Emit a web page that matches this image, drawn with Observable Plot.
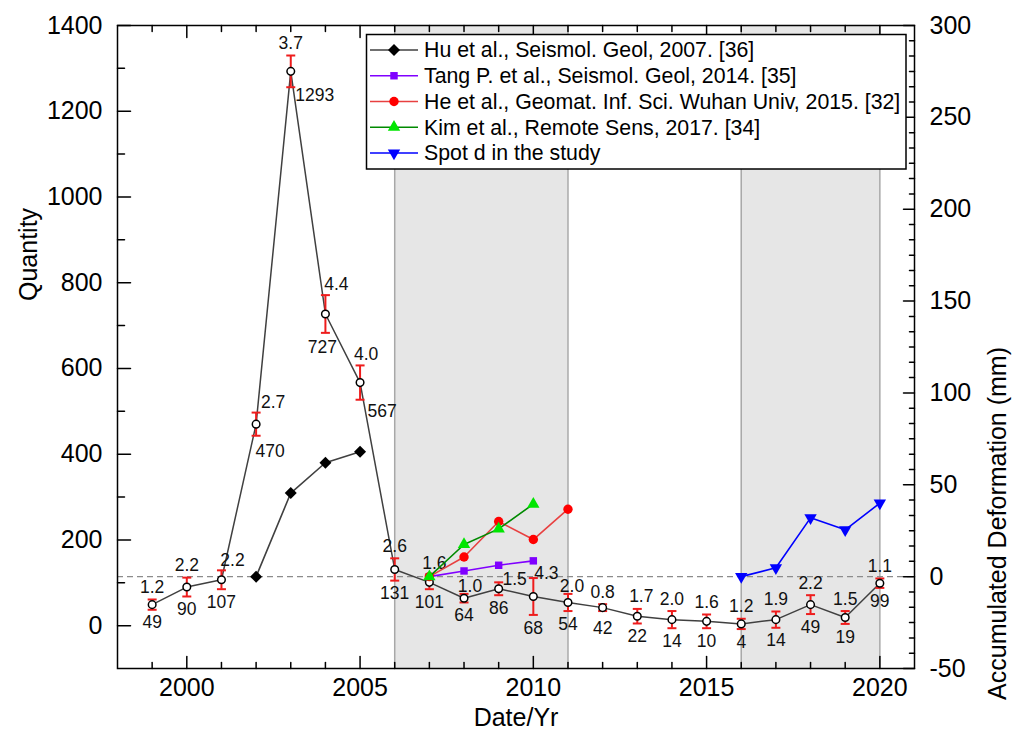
<!DOCTYPE html>
<html>
<head>
<meta charset="utf-8">
<script src="https://cdn.jsdelivr.net/npm/d3@7"></script>
<script src="https://cdn.jsdelivr.net/npm/@observablehq/plot@0.6"></script>
<style>
  body { margin: 0; background: #fff; }
  #chart { width: 1022px; height: 740px; }
</style>
</head>
<body>
<div id="chart"></div>
<script>
// ---- Data -------------------------------------------------------------
// Yearly event count (left axis) with the spread value printed above each point
const years    = [1999, 2000, 2001, 2002, 2003, 2004, 2005, 2006, 2007, 2008, 2009,
                  2010, 2011, 2012, 2013, 2014, 2015, 2016, 2017, 2018, 2019, 2020];
const quantity = [49, 90, 107, 470, 1293, 727, 567, 131, 101, 64, 86,
                  68, 54, 42, 22, 14, 10, 4, 14, 49, 19, 99];
const spread   = [1.2, 2.2, 2.2, 2.7, 3.7, 4.4, 4.0, 2.6, 1.6, 1.0, 1.5,
                  4.3, 2.0, 0.8, 1.7, 2.0, 1.6, 1.2, 1.9, 2.2, 1.5, 1.1];
const errScale = 10; // error bar half-length = spread × 10 (in quantity units)

// Accumulated deformation series (right axis, mm)
const huYears   = [2002, 2003, 2004, 2005];
const huDef     = [0, 45.5, 62, 68];
const tangYears = [2007, 2008, 2009, 2010];
const tangDef   = [0, 3.1, 6.2, 8.6];
const heYears   = [2007, 2008, 2009, 2010, 2011];
const heDef     = [0, 10.7, 30, 20.2, 36.7];
const kimYears  = [2007, 2008, 2009, 2010];
const kimDef    = [0, 17.5, 26, 39.5];
const spotYears = [2016, 2017, 2018, 2019, 2020];
const spotDef   = [0, 4.8, 32, 25.5, 40];

const seriesNames = [
  "Hu et al., Seismol. Geol, 2007. [36]",
  "Tang P. et al., Seismol. Geol, 2014. [35]",
  "He et al., Geomat. Inf. Sci. Wuhan Univ, 2015. [32]",
  "Kim et al., Remote Sens, 2017. [34]",
  "Spot d in the study"
];

// Shaded observation periods
const bandStart = [2006, 2016];
const bandEnd   = [2011, 2020];

// Axis ticks
const xTicks     = [2000, 2005, 2010, 2015, 2020];
const leftTicks  = [0, 200, 400, 600, 800, 1000, 1200, 1400];
const rightTicks = [-50, 0, 50, 100, 150, 200, 250, 300];

// ---- Helpers ----------------------------------------------------------
const fam = '"Liberation Sans", Arial, Helvetica, sans-serif';
const leftDomain = [-100, 1400];
const rightDomain = [-50, 300];
// map right-axis (mm) values onto the left-axis scale
const def2q = d3.scaleLinear(rightDomain, leftDomain);

const qRows = years.map((year, i) => ({
  year, q: quantity[i], s: spread[i],
  lo: quantity[i] - errScale * spread[i],
  hi: quantity[i] + errScale * spread[i]
}));
const rowsOf = (ys, vs) => ys.map((year, i) => ({year, v: def2q(vs[i])}));
const bands = bandStart.map((a, i) => ({a, b: bandEnd[i]}));

// custom symbols
const capSymbol = {draw(ctx, size) { const r = Math.sqrt(size / Math.PI); ctx.moveTo(-r, 0); ctx.lineTo(r, 0); }};
const downTriangle = {draw(ctx, size) {
  const y = Math.sqrt(size / (Math.sqrt(3) * 3));
  ctx.moveTo(0, 2 * y); ctx.lineTo(-Math.sqrt(3) * y, -y); ctx.lineTo(Math.sqrt(3) * y, -y); ctx.closePath();
}};
const tickShape = {draw(ctx, l) { ctx.moveTo(0, 0); ctx.lineTo(0, -l); }};

const series = [
  {rows: rowsOf(huYears, huDef),     line: "#404040", fill: "#000000", symbol: "diamond2", r: 5.4},
  {rows: rowsOf(tangYears, tangDef), line: "#8000ff", fill: "#7f00ff", symbol: "square",   r: 4.2},
  {rows: rowsOf(heYears, heDef),     line: "#e84040", fill: "#ff0000", symbol: "circle",   r: 4.7},
  {rows: rowsOf(kimYears, kimDef),   line: "#008a00", fill: "#00e600", symbol: "triangle", r: 4.6},
  {rows: rowsOf(spotYears, spotDef), line: "#0000ff", fill: "#0000ff", symbol: downTriangle, r: 4.6}
];

// tick marks drawn inward from the frame
function tickMarks(values, side, len) {
  const horiz = side === "left" || side === "right";
  return Plot.vector(values, {
    [horiz ? "y" : "x"]: d => d,
    frameAnchor: side,
    length: len,
    rotate: {left: 90, right: -90, bottom: 0, top: 180}[side],
    anchor: "start",
    shape: tickShape,
    stroke: "black",
    strokeWidth: 1.5
  });
}

// value labels: a few are nudged sideways to stay clear of the lines
const topNudge = {2001: [11, -10], 2002: [17, -10], 2004: [11, -11], 2005: [6, -11], 2007: [5, -12],
                  2008: [6, -8], 2009: [16, -3], 2010: [13, -5], 2011: [4, -8], 2013: [4, -13]};
const bottomNudge = {2002: [14, 16], 2003: [24, 8], 2004: [-3, 15], 2005: [22, 12], 2012: [0, 17]};
function labelMarks(yField, text, nudge, fallback) {
  const groups = d3.group(qRows, d => (nudge[d.year] || fallback).join(","));
  return [...groups].map(([key, rows]) => {
    const [dx, dy] = key.split(",").map(Number);
    return Plot.text(rows, {x: "year", y: yField, text, dx, dy, fontSize: 17.5, fill: "#111"});
  });
}

const xMinor = d3.range(1999, 2021).filter(y => y % 5 !== 0);
const leftMinor = d3.range(100, 1400, 200);
const rightMinor = d3.range(-50, 300.001, 50 / 6).filter(v => Math.abs(v / 50 - Math.round(v / 50)) > 1e-6);

const chart = Plot.plot({
  width: 1022,
  height: 740,
  marginLeft: 117,
  marginRight: 108,
  marginTop: 25,
  marginBottom: 72,
  style: {fontFamily: fam, background: "white", color: "black", overflow: "visible"},
  x: {domain: [1998, 2021], axis: null, label: null},
  y: {domain: leftDomain, axis: null, label: null},
  marks: [
    // shaded periods
    Plot.rect(bands, {x1: "a", x2: "b", fill: "#e6e6e6"}),
    Plot.ruleX(bands.flatMap(d => [d.a, d.b]), {stroke: "#a8a8a8", strokeWidth: 1.5}),
    // zero deformation reference
    Plot.ruleY([def2q(0)], {stroke: "#8c8c8c", strokeWidth: 1.2, strokeDasharray: "6,4"}),

    // quantity series with error bars
    Plot.line(qRows, {x: "year", y: "q", stroke: "#404040", strokeWidth: 1.5}),
    Plot.ruleX(qRows, {x: "year", y1: "lo", y2: "hi", stroke: "#ee1c1c", strokeWidth: 2}),
    Plot.dot(qRows, {x: "year", y: "lo", symbol: capSymbol, r: 4.5, stroke: "#ee1c1c", strokeWidth: 2, fill: "none"}),
    Plot.dot(qRows, {x: "year", y: "hi", symbol: capSymbol, r: 4.5, stroke: "#ee1c1c", strokeWidth: 2, fill: "none"}),
    Plot.dot(qRows, {x: "year", y: "q", r: 3.8, fill: "white", stroke: "black", strokeWidth: 1.5}),
    ...labelMarks("hi", d => d.s.toFixed(1), topNudge, [0, -12]),
    ...labelMarks("lo", d => String(d.q), bottomNudge, [0, 13]),

    // deformation series
    ...series.flatMap(s => [
      Plot.line(s.rows, {x: "year", y: "v", stroke: s.line, strokeWidth: 1.6}),
      Plot.dot(s.rows, {x: "year", y: "v", symbol: s.symbol, r: s.r, fill: s.fill, stroke: "none"})
    ]),

    // ticks
    tickMarks(xTicks, "bottom", 12), tickMarks(xMinor, "bottom", 6),
    tickMarks(xTicks, "top", 12), tickMarks(xMinor, "top", 6),
    tickMarks(leftTicks, "left", 13), tickMarks(leftMinor, "left", 7),
    tickMarks(rightTicks.map(def2q), "right", 11), tickMarks(rightMinor.map(def2q), "right", 5),
    Plot.frame({stroke: "black", strokeWidth: 1.5}),

    // tick labels
    Plot.axisX(xTicks, {anchor: "bottom", tickSize: 0, tickPadding: 10, fontSize: 25, tickFormat: d => String(d), label: null}),
    Plot.axisY(leftTicks, {anchor: "left", tickSize: 0, tickPadding: 15, fontSize: 25, tickFormat: d => String(d), label: null}),
    Plot.axisY(rightTicks.map(def2q), {anchor: "right", tickSize: 0, tickPadding: 15, fontSize: 25,
      tickFormat: d => String(Math.round(def2q.invert(d))), label: null}),

    // axis titles
    Plot.text(["Date/Yr"], {frameAnchor: "bottom", dy: 57, fontSize: 25, fill: "black"}),
    Plot.text(["Quantity"], {frameAnchor: "left", dx: -89, dy: -46, rotate: -90, fontSize: 25, fill: "black"}),
    Plot.text(["Accumulated Deformation (mm)"], {frameAnchor: "right", dx: 83, rotate: -90, fontSize: 25, fill: "black"})
  ]
});

// ---- Legend box inside the plot ----------------------------------------
const svg = d3.select(chart);
const lg = svg.append("g").attr("font-family", fam).attr("text-anchor", "start");
lg.append("rect")
  .attr("x", 366.5).attr("y", 34.5).attr("width", 539.5).attr("height", 134.5)
  .attr("fill", "white").attr("stroke", "black").attr("stroke-width", 1.5);
const symbolTypes = {diamond2: d3.symbolDiamond2, square: d3.symbolSquare, circle: d3.symbolCircle, triangle: d3.symbolTriangle};
series.forEach((s, i) => {
  const cy = 50 + i * 25.75;
  lg.append("line").attr("x1", 370).attr("x2", 418).attr("y1", cy).attr("y2", cy)
    .attr("stroke", s.line).attr("stroke-width", 1.6);
  const type = typeof s.symbol === "string" ? symbolTypes[s.symbol] : s.symbol;
  lg.append("path").attr("d", d3.symbol(type, Math.PI * s.r * s.r)())
    .attr("transform", `translate(394,${cy})`).attr("fill", s.fill);
  lg.append("text").attr("x", 424).attr("y", cy).attr("dy", "0.35em")
    .attr("text-anchor", "start").attr("font-size", 21.3).attr("fill", "black").text(seriesNames[i]);
});

document.getElementById("chart").appendChild(chart);
</script>
</body>
</html>
